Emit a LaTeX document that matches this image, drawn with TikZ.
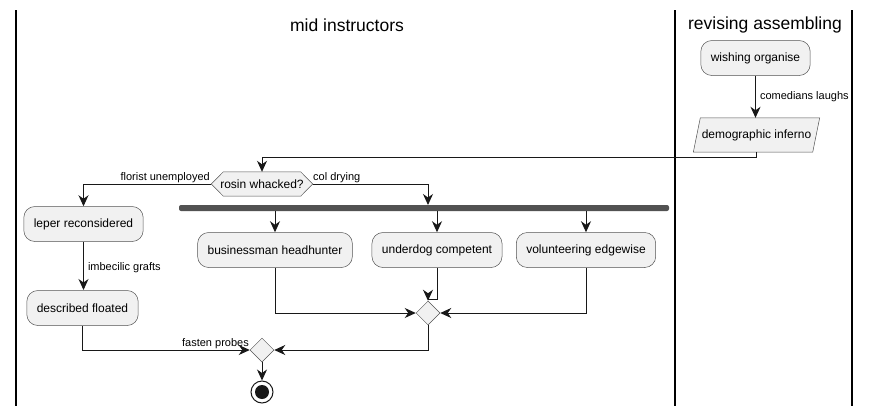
\documentclass[tikz,border=0pt]{standalone}
\usepackage{fontspec}
\setmainfont{Liberation Sans}
\usetikzlibrary{shapes.geometric,arrows.meta,backgrounds,calc}
\definecolor{boxfill}{HTML}{F1F1F1}
\definecolor{ln}{HTML}{181818}
\tikzset{
  act/.style={draw=ln!75, line width=0.5pt, fill=boxfill, rounded corners=11pt, minimum height=35pt, inner xsep=10pt, font=\fontsize{12}{14}\selectfont},
  shp/.style={draw=ln!75, line width=0.5pt, fill=boxfill},
  txt/.style={font=\fontsize{12}{14}\selectfont, inner sep=0pt},
  lbl/.style={font=\fontsize{11}{13}\selectfont, inner sep=0pt},
  ttl/.style={font=\fontsize{17.5}{20}\selectfont, inner sep=0pt},
  dia/.style={diamond, draw=ln!75, line width=0.5pt, fill=boxfill, minimum width=24pt, minimum height=24pt, inner sep=0pt},
  conn/.style={draw=ln, line width=1pt, -{Stealth[length=11pt, width=10pt, inset=3.5pt]}},
  lane/.style={draw=black, line width=1.5pt},
}
\begin{document}
\begin{tikzpicture}[x=1pt,y=-1pt]
\useasboundingbox (0,0) rectangle (870,415);
% swimlanes
\draw[lane] (16,10) -- (16,406);
\draw[lane] (675,10) -- (675,406);
\draw[lane] (852,10) -- (852,406);
\node[ttl] (t1) at (347,25) {mid instructors};
\node[ttl] (t2) at (765,25) {revising assembling};
% right lane
\node[act] (wo) at (755.5,58) {wishing organise};
\node[txt, minimum width=126pt, minimum height=34pt] (di) at (756.5,135) {demographic inferno};
\begin{pgfonlayer}{background}
\path[shp] ([xshift=7pt]di.north west) -- (di.north east) -- ([xshift=-7pt]di.south east) -- (di.south west) -- cycle;
\end{pgfonlayer}
\draw[conn] (wo.south) -- node[lbl, right=4pt] {comedians laughs} (wo.south |- di.north);
% decision
\node[txt, minimum width=101pt, minimum height=24pt] (rw) at (262,184) {rosin whacked?};
\begin{pgfonlayer}{background}
\path[shp] (rw.west) -- ([xshift=12pt]rw.north west) -- ([xshift=-12pt]rw.north east) -- (rw.east) -- ([xshift=-12pt]rw.south east) -- ([xshift=12pt]rw.south west) -- cycle;
\end{pgfonlayer}
\coordinate (c1) at (756,157);
\draw[conn] (756,152) -- (c1) -| (rw.north);
% left branch
\node[act] (lr) at (83.5,224) {leper reconsidered};
\node[act] (df) at (82.5,308) {described floated};
\draw[conn] (rw.west) -| (lr.north);
\node[lbl, anchor=south east] (l1) at (210,183) {florist unemployed};
\draw[conn] (lr.south) -- node[lbl, right=4pt, pos=0.53] {imbecilic grafts} (83.5,290);
% fork
\node[draw=none, fill=ln!75, rounded corners=2pt, minimum width=490pt, minimum height=6pt, inner sep=0pt] (fk) at (424,208) {};
\draw[conn] (rw.east) -| (428,205);
\node[lbl, anchor=south west] (l2) at (313,183) {col drying};
\node[act] (bh) at (275,250) {businessman headhunter};
\node[act] (uc) at (437,250) {underdog competent};
\node[act] (ve) at (586,250) {volunteering edgewise};
\draw[conn] (275,211) -- (bh.north);
\draw[conn] (437,211) -- (uc.north);
\draw[conn] (586,211) -- (ve.north);
% merge
\node[dia] (m1) at (428,313) {};
\draw[conn] (bh.south) |- (m1.west);
\draw[conn] (ve.south) |- (m1.east);
\coordinate (c2) at (437,299);
\draw[conn] (uc.south) -- (c2) -| (m1.north);
% final merge
\node[dia] (m2) at (262,350) {};
\draw[conn] (m1.south) |- (m2.east);
\draw[conn] (df.south) |- (m2.west);
\node[lbl, anchor=south east] (l3) at (249,349) {fasten probes};
% end
\node[circle, draw=ln, line width=1pt, fill=white, minimum size=22pt, inner sep=0pt] (en) at (262,392) {};
\fill[ln] (en.center) circle (7pt);
\draw[conn] (m2.south) -- (en.north);
\end{tikzpicture}
\end{document}
